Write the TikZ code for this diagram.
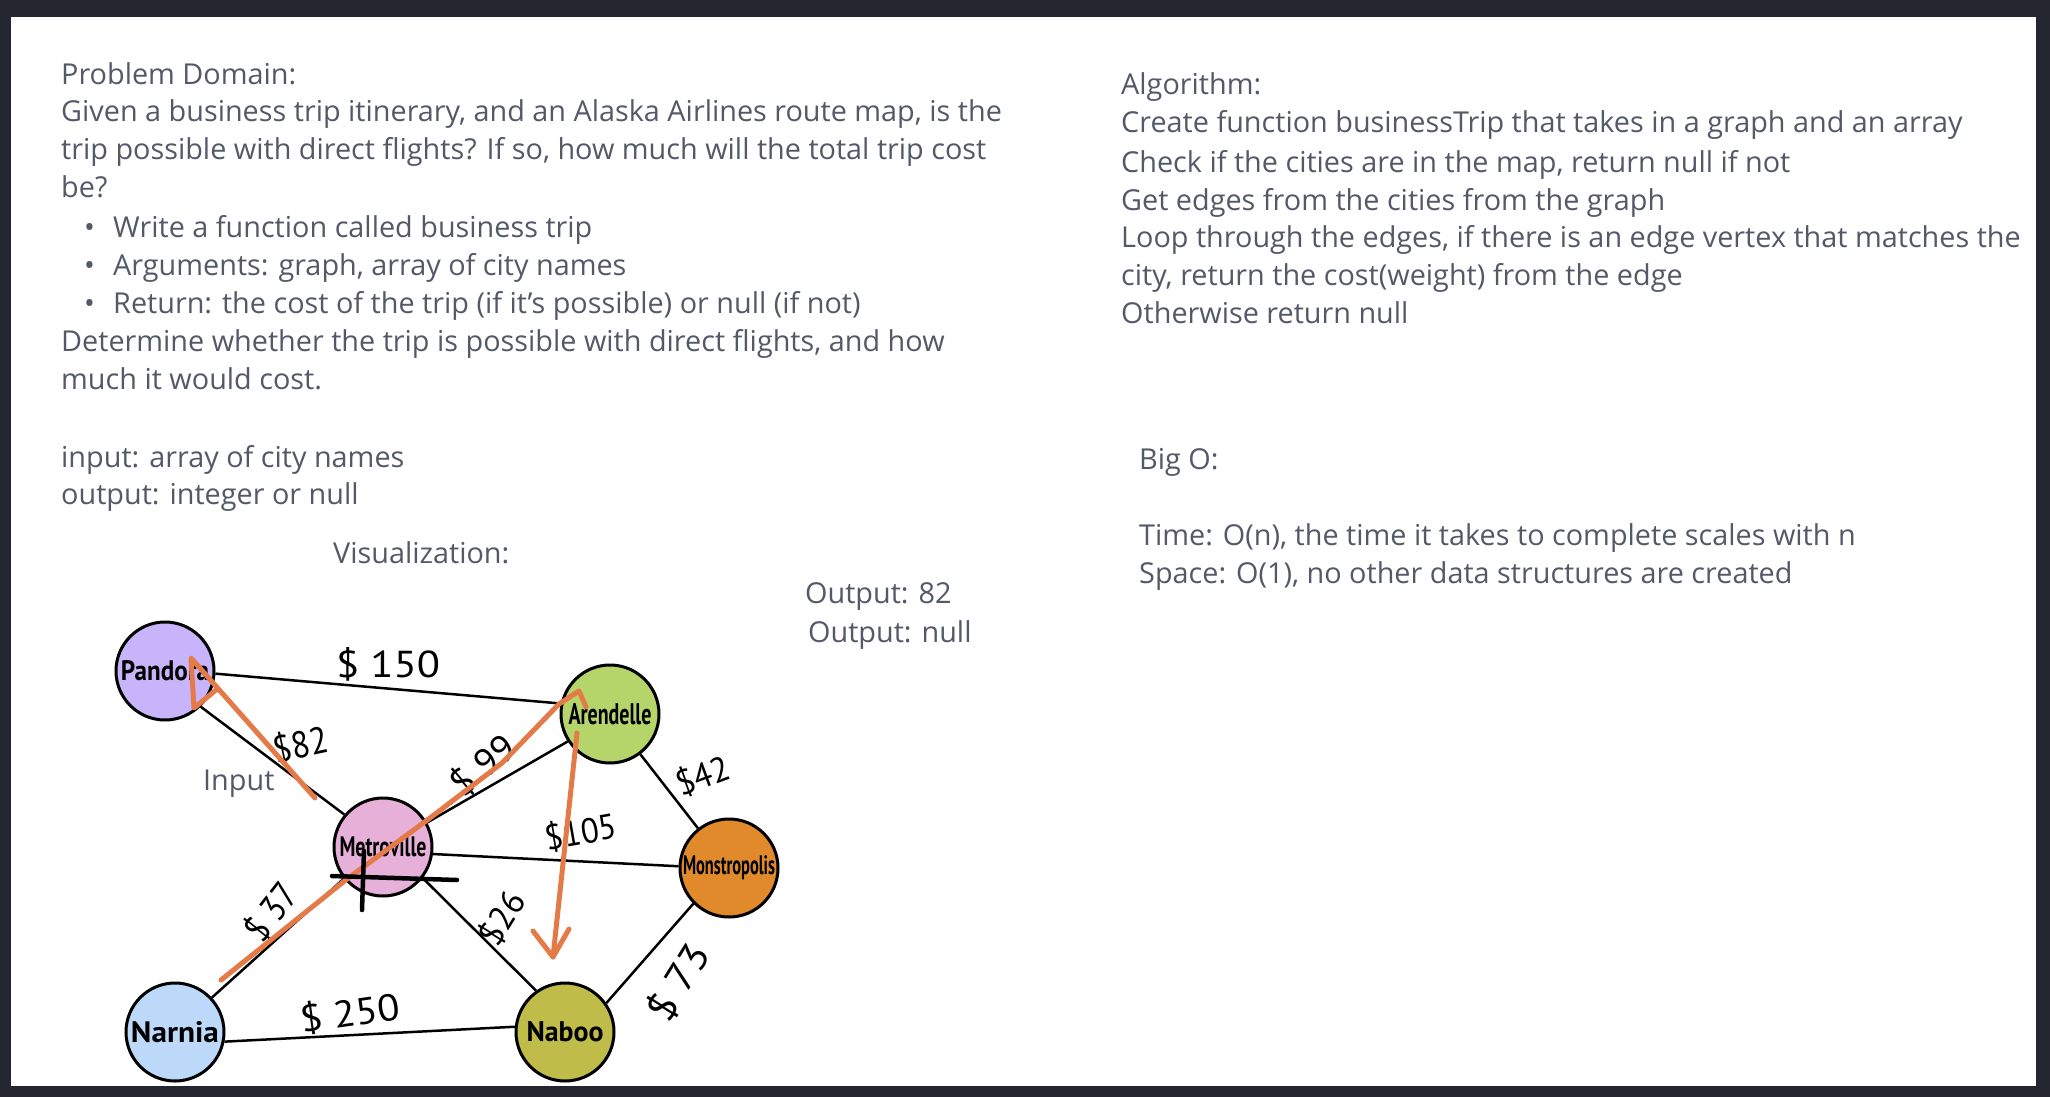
\documentclass[tikz,border=0pt]{standalone}
\usepackage{fontspec}
\usepackage{graphicx}
\setmainfont{Open Sans}
\newfontfamily\handfont{PT Sans}
\definecolor{framec}{RGB}{35,38,46}
\definecolor{txt}{RGB}{84,89,104}
\definecolor{orng}{RGB}{228,122,72}
\definecolor{cpan}{RGB}{200,180,250}
\definecolor{care}{RGB}{181,213,106}
\definecolor{cmet}{RGB}{230,176,216}
\definecolor{cmon}{RGB}{224,138,43}
\definecolor{cnar}{RGB}{189,217,249}
\definecolor{cnab}{RGB}{191,188,74}
\newcommand\hw[3]{\resizebox{#1pt}{#2pt}{\handfont #3}}
\newcommand\hwb[3]{\resizebox{#1pt}{#2pt}{\handfont\bfseries #3}}
\tikzset{
  txtline/.style={anchor=base west, inner sep=0pt, text=txt, font=\fontsize{28.8}{34}\selectfont},
  city/.style={circle, draw=black, line width=3pt, minimum size=98pt, inner sep=0pt},
  edgeline/.style={draw=black, line width=2.5pt},
  hand/.style={inner sep=0pt, text=black},
  orangepath/.style={draw=orng, line width=5pt, line cap=round, line join=round},
  crossline/.style={draw=black, line width=4.5pt, line cap=round}
}
\begin{document}
\begin{tikzpicture}[x=1pt,y=-1pt]
\useasboundingbox (0,0) rectangle (2050,1097);
\fill[framec] (0,0) rectangle (2050,1097);
\fill[white] (10.5,17) rectangle (2036,1086);

% left column text
\node[txtline] (pd) at (61,85) {Problem Domain:};
\node[txtline] (l1) at (61,122) {Given a business trip itinerary, and an Alaska Airlines route map, is the};
\node[txtline] (l2) at (61,160) {trip possible with direct flights? If so, how much will the total trip cost};
\node[txtline] (l3) at (61,197) {be?};
\node[txtline] (bu1) at (84,237) {•};
\node[txtline] (l4) at (113,237) {Write a function called business trip};
\node[txtline] (bu2) at (84,275) {•};
\node[txtline] (l5) at (113,275) {Arguments: graph, array of city names};
\node[txtline] (bu3) at (84,313) {•};
\node[txtline] (l6) at (113,313) {Return: the cost of the trip (if it’s possible) or null (if not)};
\node[txtline] (l7) at (61,351) {Determine whether the trip is possible with direct flights, and how};
\node[txtline] (l8) at (61,389) {much it would cost.};
\node[txtline] (in) at (61,467) {input: array of city names};
\node[txtline] (out) at (61,504) {output: integer or null};
\node[txtline] (vis) at (333,563) {Visualization:};
\node[txtline] (inp) at (203,790) {Input};
\node[txtline] (o1) at (805,603) {Output: 82};
\node[txtline] (o2) at (808,642) {Output: null};

% right column text
\node[txtline] (alg) at (1121,95) {Algorithm:};
\node[txtline] (a1) at (1121,133) {Create function businessTrip that takes in a graph and an array};
\node[txtline] (a2) at (1121,172) {Check if the cities are in the map, return null if not};
\node[txtline] (a3) at (1121,210) {Get edges from the cities from the graph};
\node[txtline] (a4) at (1121,247) {Loop through the edges, if there is an edge vertex that matches the};
\node[txtline] (a5) at (1121,285) {city, return the cost(weight) from the edge};
\node[txtline] (a6) at (1121,323) {Otherwise return null};
\node[txtline] (bo) at (1139,469) {Big O:};
\node[txtline] (t1) at (1139,545) {Time: O(n), the time it takes to complete scales with n};
\node[txtline] (t2) at (1139,583) {Space: O(1), no other data structures are created};

% cities
\node[city, fill=cpan] (pan) at (165,671) {\hwb{88}{20}{Pandora}};
\node[city, fill=care] (are) at (610,714) {\hwb{83}{21}{Arendelle}};
\node[city, fill=cmet] (met) at (383,847) {\hwb{87}{20}{Metroville}};
\node[city, fill=cmon] (mon) at (729,868) {\hwb{92}{19}{Monstropolis}};
\node[city, fill=cnar] (nar) at (175,1032) {\hwb{88}{21}{Narnia}};
\node[city, fill=cnab] (nab) at (565,1032) {\hwb{77}{20}{Naboo}};

% edges
\draw[edgeline] (pan.-3) -- (are.168);
\draw[edgeline] (pan.-45) -- (met.140);
\draw[edgeline] (met.29) -- (are.213);
\draw[edgeline] (met.-8) -- (mon.178);
\draw[edgeline] (met.-38) -- (nab.125);
\draw[edgeline] (met.219) -- (nar.43);
\draw[edgeline] (are.-53) -- (mon.128);
\draw[edgeline] (mon.225) -- (nab.35);
\draw[edgeline] (nar.-11) -- (nab.174);

% edge cost labels
\node[hand] (c150) at (388,664) {\hw{104}{30}{\$ 150}};
\node[hand, rotate=12] (c82) at (301,745) {\hw{55}{30}{\$82}};
\node[hand, rotate=40] (c99) at (483,765) {\hw{72}{30}{\$ 99}};
\node[hand, rotate=20] (c42) at (703,776) {\hw{55}{28}{\$42}};
\node[hand, rotate=10] (c105) at (581,832) {\hw{72}{28}{\$105}};
\node[hand, rotate=58] (c26) at (502,918) {\hw{56}{28}{\$26}};
\node[hand, rotate=52] (c37) at (271,912) {\hw{62}{30}{\$ 37}};
\node[hand, rotate=8] (c250) at (350,1013) {\hw{100}{30}{\$ 250}};
\node[hand, rotate=58] (c73) at (678,982) {\hw{82}{32}{\$ 73}};

% orange trip annotations
\coordinate (o1s) at (221,980);
\coordinate (o1a) at (347,879);
\coordinate (o1b) at (430,818);
\coordinate (o1c) at (502,763);
\coordinate (o1d) at (559,704);
\coordinate (o1t) at (579,691);
\coordinate (o1h) at (586,707);
\draw[orangepath] (o1s) -- (o1a) -- (o1b) -- (o1c) -- (o1d) -- (o1t) -- (o1h);
\coordinate (o2s) at (577,733);
\coordinate (o2t) at (553,957);
\coordinate (o2l) at (533,931);
\coordinate (o2r) at (569,929);
\draw[orangepath] (o2s) -- (o2t);
\draw[orangepath] (o2l) -- (o2t) -- (o2r);
\coordinate (o3s) at (315,798);
\coordinate (o3t) at (191,658);
\coordinate (o3l) at (194,708);
\coordinate (o3r) at (216,690);
\draw[orangepath] (o3s) -- (o3t) -- (o3l) -- (o3r);

% black cross on Metroville
\coordinate (x1) at (332,876);
\coordinate (x2) at (457,880);
\coordinate (x3) at (364,851);
\coordinate (x4) at (362,910);
\draw[crossline] (x1) -- (x2);
\draw[crossline] (x3) -- (x4);
\end{tikzpicture}
\end{document}
